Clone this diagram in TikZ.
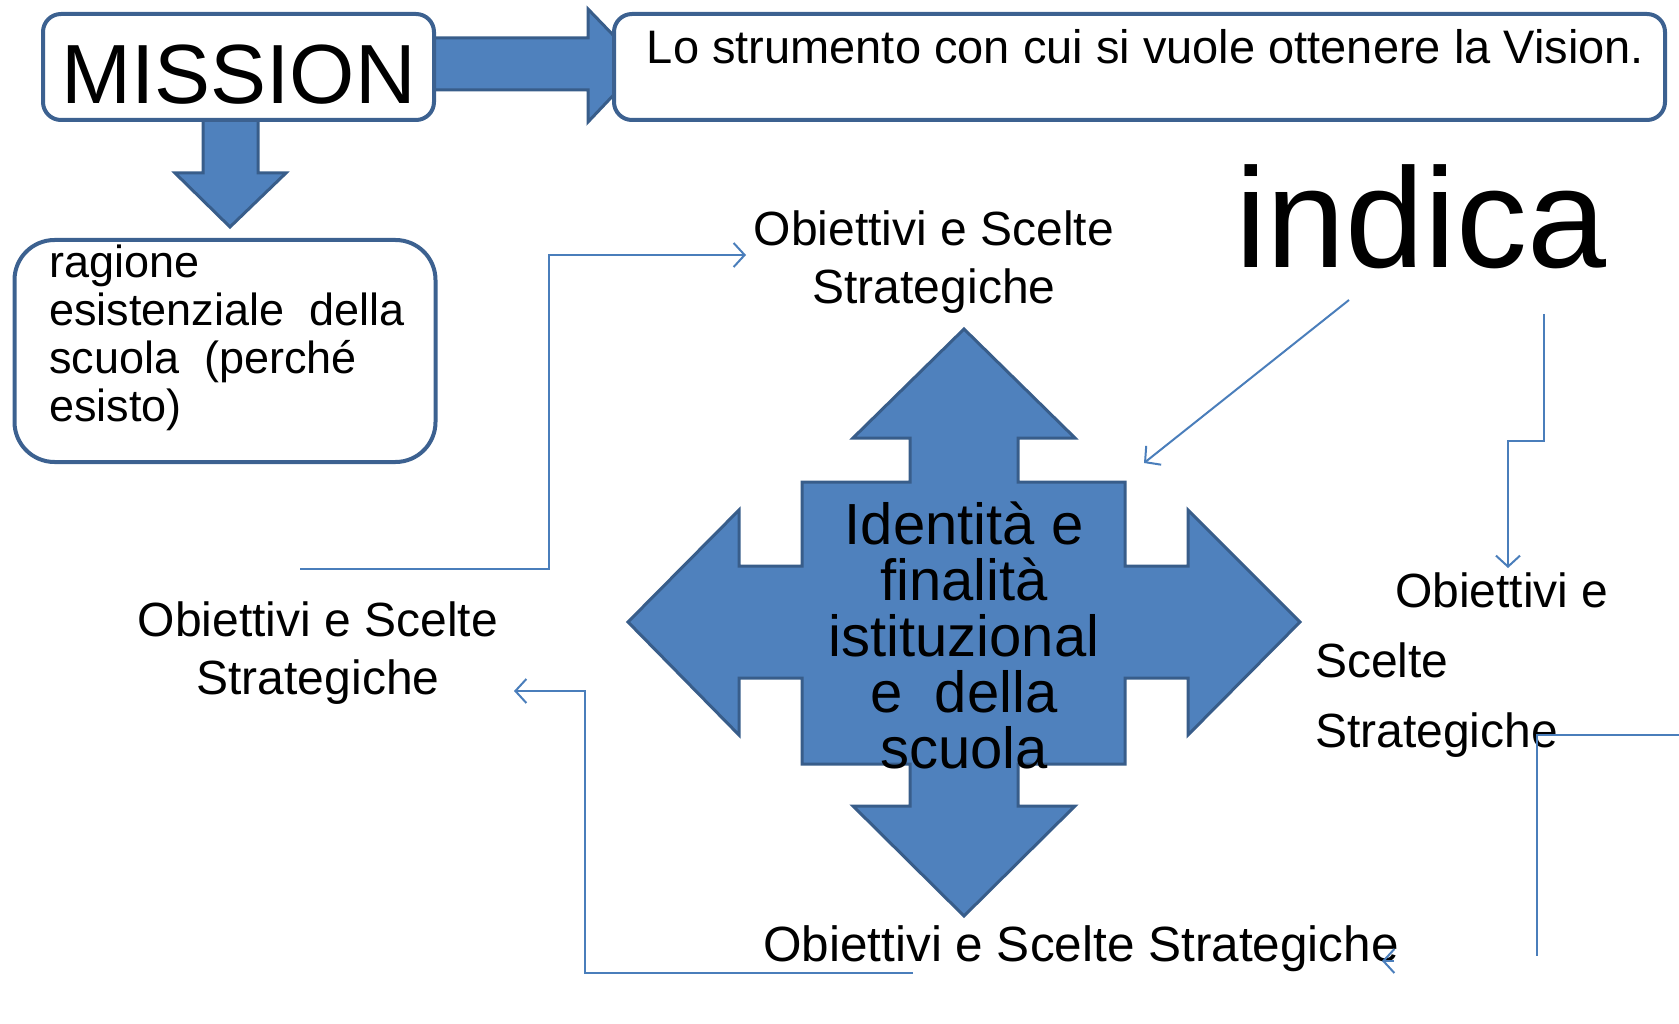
\documentclass[tikz,border=0pt]{standalone}
\usepackage{fontspec}
\setmainfont{Liberation Sans}
\usetikzlibrary{arrows.meta}
\definecolor{boxline}{HTML}{3C6190}
\definecolor{arrfill}{HTML}{4F81BD}
\definecolor{arrline}{HTML}{385D8A}
\definecolor{connblue}{HTML}{4A7EBB}
\tikzset{
  roundbox/.style={draw=boxline,line width=4pt,fill=white,rounded corners=18pt,inner sep=0pt},
  blockarr/.style={draw=arrline,line width=3pt,fill=arrfill,line join=miter},
  conn/.style={draw=connblue,line width=2pt,-{Straight Barb[length=11pt,width=24pt]}},
  connplain/.style={draw=connblue,line width=2pt},
  lbl/.style={inner sep=0pt,font=\fontsize{48}{58}\selectfont},
}
\begin{document}
\begin{tikzpicture}[x=1pt,y=-1pt]
\useasboundingbox (0,0) rectangle (1679,1024);
\draw[blockarr] (434,38) -- (588,38) -- (588,9) -- (642,65) -- (588,122) -- (588,90) -- (434,90) -- cycle;
\draw[blockarr] (203,120) -- (203,173) -- (175,173) -- (230,227) -- (286,173) -- (258,173) -- (258,120) -- cycle;
\node[roundbox,minimum width=391pt,minimum height=106pt,text height=90pt,text depth=16pt,font=\fontsize{84}{84}\selectfont] (mission) at (238.5,67) {MISSION};
\node[roundbox,minimum width=1051pt,minimum height=106pt,text height=50pt,text depth=56pt,font=\fontsize{47}{47}\selectfont] (vision) at (1139.5,67) {\hspace*{12pt}Lo strumento con cui si vuole ottenere la Vision.};
\node[roundbox,rounded corners=40pt,minimum width=421pt,minimum height=222pt] (ragbox) at (225,351) {};
\node[lbl,anchor=north west,align=left,font=\fontsize{45}{48}\selectfont] (ragione) at (49,245) {ragione\\esistenziale\ \ della\\scuola\ \ (perché\\esisto)};
\draw[blockarr] (964,329) -- (1075,438) -- (1018,438) -- (1018,482) -- (1125,482) -- (1125,566) -- (1188,566) -- (1188,510)
  -- (1300,622) -- (1188,735) -- (1188,678) -- (1125,678) -- (1125,764) -- (1018,764) -- (1018,806) -- (1075,806)
  -- (964,916) -- (853,806) -- (910,806) -- (910,764) -- (802,764) -- (802,678) -- (739,678) -- (739,735)
  -- (628,622) -- (739,510) -- (739,566) -- (802,566) -- (802,482) -- (910,482) -- (910,438) -- (853,438) -- cycle;
\node[lbl,anchor=north,align=center,font=\fontsize{58}{56}\selectfont] (ident) at (964,502) {Identità e\\finalità\\istituzional\\e\ \ della\\scuola};
\node[lbl,anchor=north,align=center] (ostop) at (934,211) {Obiettivi e Scelte\\Strategiche};
\node[lbl,anchor=north,align=center] (osleft) at (318,602) {Obiettivi e Scelte\\Strategiche};
\node[lbl,anchor=north west,align=left,font=\fontsize{48}{70}\selectfont] (osright) at (1315,573) {\hspace*{80pt}Obiettivi e\\Scelte\\Strategiche};
\node[lbl,anchor=base west,font=\fontsize{49.5}{58}\selectfont] (osbottom) at (763,961) {Obiettivi e Scelte Strategiche};
\node[inner sep=0pt,anchor=base west,font=\fontsize{142}{142}\selectfont] (indica) at (1235,268) {indica};
\coordinate (ind1) at (1349,300);
\coordinate (ind2) at (1144,463);
\coordinate (rt1) at (1544,314);
\coordinate (rt2) at (1508,568);
\coordinate (rb1) at (1679,735);
\coordinate (rb2) at (1537,956);
\coordinate (bt1) at (1394,961);
\coordinate (bt2) at (1382,961);
\coordinate (lb1) at (913,973);
\coordinate (lb2) at (514,691);
\coordinate (lt1) at (300,569);
\coordinate (lt2) at (746,255);
\draw[conn] (ind1) -- (ind2);
\draw[conn] (rt1) -- ++(0,127) -| (rt2);
\draw[connplain] (rb1) -| (rb2);
\draw[conn] (bt1) -- (bt2);
\draw[conn] (lb1) -- ++(-328,0) |- (lb2);
\draw[conn] (lt1) -- ++(249,0) |- (lt2);
\end{tikzpicture}
\end{document}
